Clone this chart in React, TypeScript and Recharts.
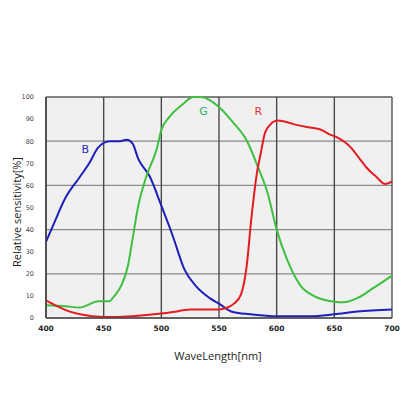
import React from 'react';
import {
  LineChart, Line, XAxis, YAxis, CartesianGrid, ReferenceLine, ReferenceDot
} from 'recharts';

// wavelength [nm] / relative sensitivity [%]
const blueNm = [400, 406, 417, 429, 438, 445, 455, 464, 470, 475, 480, 490, 500, 510, 520, 530, 542, 550, 562, 577, 600, 629, 650, 670, 700];
const blueVal = [34.5, 41.7, 54.5, 63.6, 70.5, 77, 80, 80, 80.6, 79, 72, 64, 50.8, 37, 22, 14.4, 9, 6.5, 2.7, 1.7, 0.8, 0.8, 1.7, 2.9, 3.8];

const greenNm = [400, 417, 429, 435, 445, 455, 459, 465, 471, 475, 480, 487, 496, 500, 507, 517, 528, 534, 550, 562, 574, 584, 592, 600, 609, 621, 633, 650, 658, 670, 684, 700];
const greenVal = [5.8, 5.3, 4.7, 5.6, 7.6, 7.6, 9.8, 14.4, 23.5, 35.6, 50.8, 64, 76.5, 85, 91, 96, 100, 100, 95.5, 88.6, 80.3, 68, 56.8, 40, 26.5, 14.4, 9.8, 7.4, 7.1, 9, 13.6, 19.2];

const redNm = [400, 410, 420, 432, 446, 461, 475, 500, 510, 525, 542, 550, 556, 563, 569, 574, 578, 583, 586, 590, 596, 600, 609, 617, 629, 638, 645, 652, 664, 672, 678, 687, 694, 697, 700];
const redVal = [8, 5.3, 3, 1.5, 0.6, 0.5, 0.8, 2, 2.7, 3.9, 3.9, 3.9, 4.5, 6.5, 10.6, 23.5, 44.7, 66, 74, 84, 88.3, 89.4, 88.6, 87.4, 86.2, 85.3, 83.3, 81.8, 77.3, 72, 68, 63.6, 60.6, 61, 61.8];

const xTicks = [400, 450, 500, 550, 600, 650, 700];
const yTicks = [0, 10, 20, 30, 40, 50, 60, 70, 80, 90, 100];

const toPoints = (nm: number[], val: number[]) => nm.map((x, i) => ({ nm: x, v: val[i] }));

const blueData = toPoints(blueNm, blueVal);
const greenData = toPoints(greenNm, greenVal);
const redData = toPoints(redNm, redVal);

const font = '"DejaVu Sans", sans-serif';

export default function App() {
  return (
    <div style={{ position: 'absolute', left: 0, top: 0, width: 416, height: 416, background: '#fff' }}>
      <LineChart width={416} height={416} margin={{ top: 97, right: 24, bottom: 68, left: 0 }}>
        <CartesianGrid horizontal vertical={false} fill="#f0f0f0" stroke="#8a8a8a" strokeWidth={1.2} />
        <CartesianGrid horizontal={false} vertical stroke="#4a4a4a" strokeWidth={1.4} />
        <XAxis
          type="number"
          dataKey="nm"
          domain={[400, 700]}
          ticks={xTicks}
          height={30}
          tickLine={false}
          axisLine={{ stroke: '#444', strokeWidth: 1.5 }}
          tick={{ fontSize: 7.5, fill: '#222', fontFamily: font, fontWeight: 'bold' }}
          tickMargin={2}
          allowDuplicatedCategory={false}
        />
        <YAxis
          type="number"
          domain={[0, 100]}
          ticks={yTicks}
          width={46}
          tickLine={false}
          axisLine={{ stroke: '#444', strokeWidth: 1.5 }}
          tick={{ fontSize: 6.5, fill: '#444', fontFamily: font }}
          tickMargin={6}
        />
        <ReferenceLine y={100} stroke="#444" strokeWidth={1.2} />
        <ReferenceLine x={700} stroke="#888" strokeWidth={1} />
        <Line data={blueData} dataKey="v" type="monotone" stroke="#1e1eb8" strokeWidth={2} dot={false} isAnimationActive={false} />
        <Line data={greenData} dataKey="v" type="monotone" stroke="#3fbf3f" strokeWidth={2} dot={false} isAnimationActive={false} />
        <Line data={redData} dataKey="v" type="monotone" stroke="#e31b23" strokeWidth={2} dot={false} isAnimationActive={false} />
        <ReferenceDot x={434} y={76.4} r={0} label={{ value: 'B', position: 'center', fill: '#2a2ac0', fontSize: 11, fontFamily: font }} />
        <ReferenceDot x={536.5} y={93.6} r={0} label={{ value: 'G', position: 'center', fill: '#2fb36a', fontSize: 11, fontFamily: font }} />
        <ReferenceDot x={584} y={93.6} r={0} label={{ value: 'R', position: 'center', fill: '#e0303a', fontSize: 11, fontFamily: font }} />
      </LineChart>
      <div style={{ position: 'absolute', left: 0, top: 348, width: 436, textAlign: 'center', fontFamily: '"Open Sans", sans-serif', fontSize: 11, color: '#222' }}>
        WaveLength[nm]
      </div>
      <div style={{ position: 'absolute', left: 16, top: 212, transform: 'translate(-50%, -50%) rotate(-90deg)', whiteSpace: 'nowrap', fontFamily: '"Open Sans", sans-serif', fontSize: 11, color: '#222' }}>
        Relative sensitivity[%]
      </div>
    </div>
  );
}
